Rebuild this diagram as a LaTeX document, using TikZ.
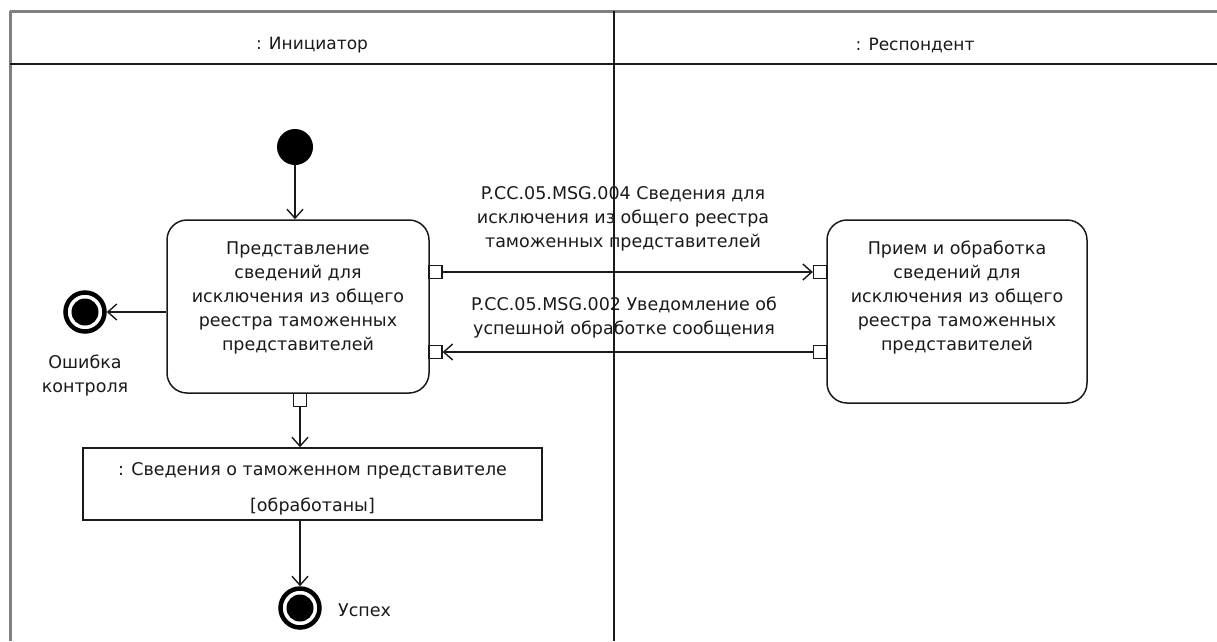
\documentclass[tikz,border=0pt]{standalone}
\usepackage{fontspec}
\setmainfont{DejaVu Sans}
\usetikzlibrary{arrows.meta}
\definecolor{frameg}{HTML}{808080}
\definecolor{ink}{HTML}{1a1a1a}
\begin{document}
\begin{tikzpicture}[x=1pt,y=-1pt,
  txt/.style={font=\fontsize{17.5}{24}\selectfont, align=center, inner sep=0pt, text=ink},
  act/.style={draw=ink, rounded corners=20pt, line width=1.5pt, fill=white, inner sep=0pt},
  pin/.style={draw=ink, line width=1.3pt, fill=white, minimum size=13pt, inner sep=0pt},
  objbox/.style={draw=ink, line width=1.5pt, fill=white, inner sep=0pt},
  flow/.style={draw=ink, line width=1.4pt, -{Straight Barb[length=9pt,width=16pt,line width=1.4pt]}},
  finalnode/.style={circle, draw=black, line width=4.5pt, minimum size=39pt, inner sep=0pt},
  initnode/.style={circle, fill=black, minimum size=36pt, inner sep=0pt},
  frameline/.style={draw=frameg, line width=3pt},
  sepline/.style={draw=ink, line width=1.8pt}
]
\useasboundingbox (0,0) rectangle (1217,641);
% frame
\draw[frameline] (10,11) -- (1217,11);
\draw[frameline] (10,11) -- (10,641);
\draw[sepline] (10,64) -- (1217,64);
\draw[sepline] (614,11) -- (614,641);
\node[txt, font=\fontsize{17}{24}\selectfont] (h1) at (312,45) {: Инициатор};
\node[txt, font=\fontsize{17}{24}\selectfont] (h2) at (915,45) {: Респондент};

% initial
\node[initnode] (init) at (295,147) {};

% activity A
\node[act, minimum width=262pt, minimum height=173pt] (A) at (298,306.5) {};
\node[txt] (At) at (298,298) {Представление\\сведений для\\исключения из общего\\реестра таможенных\\представителей};
\node[pin] (pA1) at (435.5,272) {};
\node[pin] (pA2) at (435.5,352) {};
\node[pin] (pA3) at (300,400) {};

% activity B
\node[act, minimum width=260pt, minimum height=183pt] (B) at (957,311.5) {};
\node[txt] (Bt) at (957,298) {Прием и обработка\\сведений для\\исключения из общего\\реестра таможенных\\представителей};
\node[pin] (pB1) at (820,272) {};
\node[pin] (pB2) at (820,352) {};

% error final
\node[finalnode] (err) at (85,312) {};
\fill[black] (err.center) circle (13.5pt);
\node[txt] (errt) at (85,376) {Ошибка\\контроля};

% object node
\node[objbox, minimum width=459pt, minimum height=72pt] (obj) at (312.5,484) {};
\node[txt] (objt) at (312.5,489) {: Сведения о таможенном представителе\\[12pt][обработаны]};

% success final
\node[finalnode] (succ) at (300,608) {};
\fill[black] (succ.center) circle (13.5pt);
\node[txt, anchor=west] (succt) at (338,610) {Успех};

% connectors
\draw[flow] (init.south) -- (init.south |- A.north);
\draw[flow] (A.west |- err.east) -- (err.east);
\draw[flow] (pA1.east) -- (pB1.west);
\draw[flow] (pB2.west) -- (pA2.east);
\draw[flow] (pA3.south) -- (pA3.south |- obj.north);
\draw[flow] (succ.north |- obj.south) -- (succ.north);

% message labels
\node[txt] (m1) at (623,219) {P.CC.05.MSG.004 Сведения для\\исключения из общего реестра\\таможенных представителей};
\node[txt] (m2) at (624,318) {P.CC.05.MSG.002 Уведомление об\\успешной обработке сообщения};
\end{tikzpicture}
\end{document}
